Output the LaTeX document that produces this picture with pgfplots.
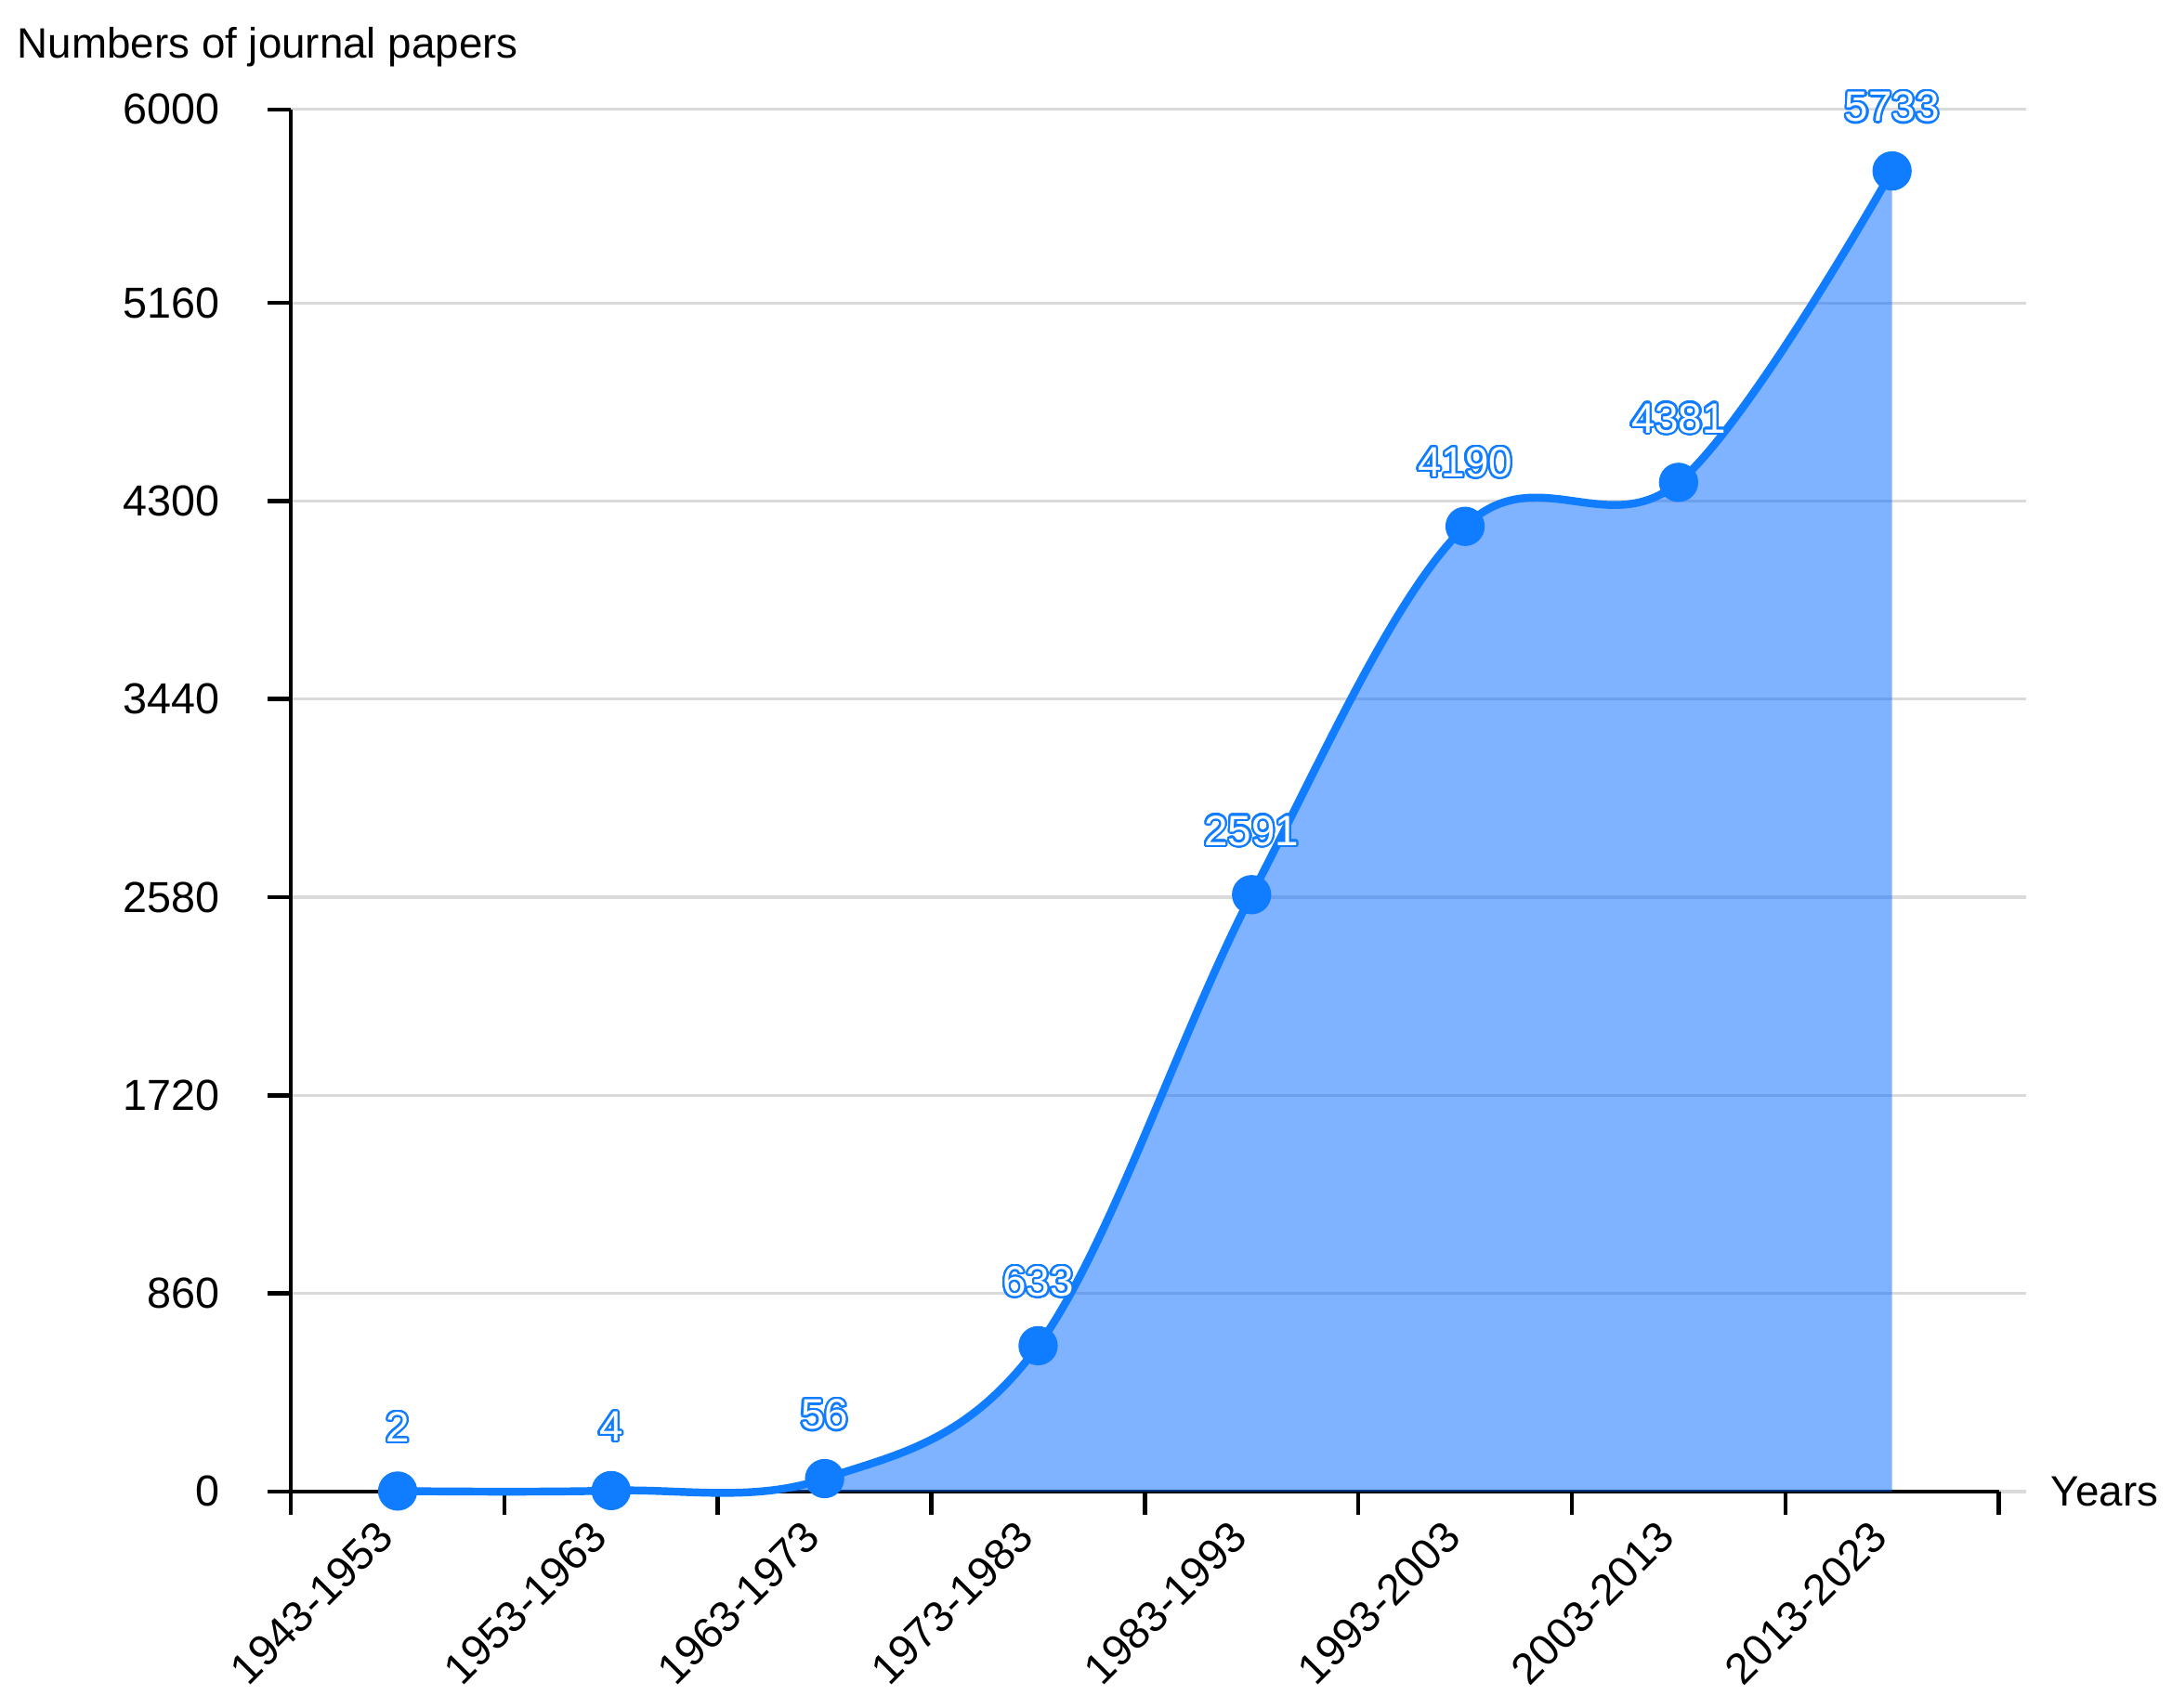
\documentclass[border=0pt]{standalone}
\usepackage{fontspec}
\setmainfont{Liberation Sans}
\usepackage{pgfplots}
\pgfplotsset{compat=1.18}
\usepackage{contour}
\contourlength{0.45pt}
\contournumber{32}
\definecolor{lineblue}{RGB}{16,124,255}
\definecolor{fillblue}{RGB}{0,102,255}
\definecolor{gridgray}{RGB}{218,218,218}
\newcommand{\lbl}[1]{\contour{lineblue}{\textcolor{white}{#1}}}
\begin{document}
\fontsize{9.2pt}{11pt}\selectfont
\begin{tikzpicture}
\path[use as bounding box] (-63pt,-46.8pt) rectangle (407.4pt,323.1pt);
\begin{axis}[
  at={(0pt,0pt)}, anchor=south west,
  scale only axis, width=375.9pt, height=299.4pt,
  xmin=0, xmax=8.13, ymin=0, ymax=6000,
  clip=false,
  axis line style={draw=none},
  xtick pos=bottom, ytick pos=left,
  ymajorgrids, grid style={gridgray, line width=0.65pt},
  ytick={0,860,1720,2580,3440,4300,5160,6000},
  scaled y ticks=false,
  /pgf/number format/1000 sep={},
  /pgf/number format/assume math mode=true,
  xtick={0.5,1.5,2.5,3.5,4.5,5.5,6.5,7.5},
  xticklabels={1943-1953,1953-1963,1963-1973,1973-1983,1983-1993,1993-2003,2003-2013,2013-2023},
  minor xtick={0,1,2,3,4,5,6,7,8},
  major x tick style={draw=none},
  tick align=outside,
  major tick length=5pt, minor tick length=5pt,
  tick style={black, line width=0.9pt},
  minor x tick style={black, line width=0.9pt},
  tick label style={font=\fontsize{9.4pt}{11pt}\selectfont},
  yticklabel style={anchor=east, inner sep=0pt, xshift=-10.3pt},
  xticklabel style={xshift=-5.1pt, yshift=-0.6pt, rotate=45, anchor=north east, inner sep=0pt},
]
\draw[black, line width=0.9pt] (axis cs:0,0) -- (axis cs:8,0);
\draw[black, line width=0.9pt] (axis cs:0,0) -- (axis cs:0,6000);
\addplot[draw=none, fill=fillblue, fill opacity=0.5, smooth, tension=0.6] coordinates {
  (0.5,2) (1.5,4) (2.5,56) (3.5,633) (4.5,2591) (5.5,4190) (6.5,4381) (7.5,5733)
} \closedcycle;
\addplot[lineblue, line width=1.7pt, smooth, tension=0.6,
  mark=*, mark size=3.4pt, mark options={draw=none, fill=lineblue},
  point meta=explicit symbolic,
  nodes near coords={\lbl{\pgfplotspointmeta}},
  every node near coord/.append style={anchor=center, yshift=13.65pt, inner sep=0pt, font=\fontsize{9.2pt}{11pt}\selectfont},
] coordinates {
  (0.5,2) [2] (1.5,4) [4] (2.5,56) [56] (3.5,633) [633] (4.5,2591) [2591] (5.5,4190) [4190] (6.5,4381) [4381] (7.5,5733) [5733]
};
\end{axis}
\node[anchor=base west, inner sep=0pt] at (-59.4pt,310.5pt) {Numbers of journal papers};
\node[anchor=west, inner sep=0pt] at (381pt,0pt) {Years};
\end{tikzpicture}
\end{document}
